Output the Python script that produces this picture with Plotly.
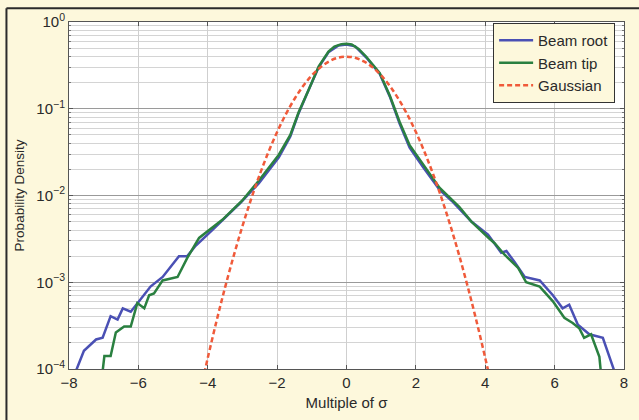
import plotly.graph_objects as go

# ---------------- data ----------------
root_x = [-7.8, -7.57, -7.22, -7.03, -6.8, -6.6, -6.45, -6.22, -5.98, -5.65, -5.3, -4.83, -4.59,
          -4.35, -3.87, -3.05, -2.53, -1.95, -1.62, -1.38, -1.09, -0.8, -0.52, -0.23, 0.0, 0.25,
          0.57, 0.96, 1.25, 1.53, 1.82, 2.2, 2.68, 3.03, 3.6, 4.08, 4.46, 4.61, 4.85, 5.14, 5.57,
          5.95, 6.23, 6.42, 6.67, 7.0, 7.39, 7.72]
root_y = [9.5e-5, 1.62e-4, 2.19e-4, 2.29e-4, 4.07e-4, 3.72e-4, 5.0e-4, 4.57e-4, 6.03e-4, 8.91e-4,
          1.15e-3, 2.0e-3, 2.0e-3, 2.63e-3, 3.98e-3, 8.3e-3, 1.38e-2, 2.75e-2, 4.79e-2, 8.9e-2,
          0.166, 0.302, 0.447, 0.537, 0.55, 0.525, 0.389, 0.251, 0.138, 0.0676, 0.0355, 0.0214,
          0.0117, 8.7e-3, 5.0e-3, 3.55e-3, 2.19e-3, 2.29e-3, 1.7e-3, 1.15e-3, 1.05e-3, 7.08e-4,
          5.0e-4, 5.5e-4, 3.24e-4, 2.51e-4, 2.29e-4, 9.5e-5]

tip_x = [-7.03, -6.98, -6.8, -6.65, -6.41, -6.22, -6.03, -5.83, -5.69, -5.55, -5.3, -5.11, -4.87,
         -4.59, -4.25, -3.58, -3.01, -2.53, -1.95, -1.62, -1.38, -1.09, -0.8, -0.52, -0.35, -0.15,
         0.0, 0.15, 0.35, 0.57, 0.96, 1.25, 1.53, 1.82, 2.2, 2.68, 3.25, 3.6, 4.1, 4.27, 4.55, 4.94,
         5.18, 5.57, 5.95, 6.28, 6.52, 6.71, 6.85, 7.05, 7.29, 7.33]
tip_y = [9.5e-5, 1.41e-4, 1.41e-4, 2.63e-4, 3.09e-4, 3.09e-4, 5.75e-4, 5.0e-4, 7.08e-4, 7.41e-4,
         1.05e-3, 1.1e-3, 1.15e-3, 1.91e-3, 3.24e-3, 5.25e-3, 8.7e-3, 1.48e-2, 2.95e-2, 5.0e-2,
         9.1e-2, 0.166, 0.309, 0.457, 0.52, 0.556, 0.562, 0.55, 0.49, 0.398, 0.257, 0.141, 0.0708,
         0.038, 0.0229, 0.0123, 7.41e-3, 5.0e-3, 3.24e-3, 2.82e-3, 2.09e-3, 1.48e-3, 1.0e-3,
         8.91e-4, 6.03e-4, 3.89e-4, 3.39e-4, 2.95e-4, 2.29e-4, 2.51e-4, 1.38e-4, 9.5e-5]

gauss_x = [-4.1, -4.0, -3.75, -3.5, -3.25, -3.0, -2.75, -2.5, -2.25, -2.0, -1.75, -1.5, -1.25,
           -1.0, -0.75, -0.5, -0.25, 0.0, 0.25, 0.5, 0.75, 1.0, 1.25, 1.5, 1.75, 2.0, 2.25, 2.5,
           2.75, 3.0, 3.25, 3.5, 3.75, 4.0, 4.1]
gauss_y = [8.92e-5, 1.34e-4, 3.53e-4, 8.73e-4, 2.03e-3, 4.43e-3, 9.09e-3, 1.75e-2, 3.17e-2,
           5.40e-2, 8.63e-2, 0.1295, 0.1826, 0.2420, 0.3011, 0.3521, 0.3867, 0.3989, 0.3867,
           0.3521, 0.3011, 0.2420, 0.1826, 0.1295, 8.63e-2, 5.40e-2, 3.17e-2, 1.75e-2, 9.09e-3,
           4.43e-3, 2.03e-3, 8.73e-4, 3.53e-4, 1.34e-4, 8.92e-5]

x_ticks = [-8, -6, -4, -2, 0, 2, 4, 6, 8]
y_tickvals = [1e-4, 1e-3, 1e-2, 1e-1, 1]
y_ticktext = ["10<sup>−4</sup>", "10<sup>−3</sup>", "10<sup>−2</sup>", "10<sup>−1</sup>", "10<sup>0</sup>"]

# ---------------- figure ----------------
CREAM = "#fdf8dc"
FONT = "Liberation Sans, Arial, sans-serif"

fig = go.Figure()
fig.add_trace(go.Scatter(x=root_x, y=root_y, mode="lines", name="Beam root",
                         line=dict(color="#4a50b4", width=2.5)))
fig.add_trace(go.Scatter(x=tip_x, y=tip_y, mode="lines", name="Beam tip",
                         line=dict(color="#2a8040", width=2.5)))
fig.add_trace(go.Scatter(x=gauss_x, y=gauss_y, mode="lines", name="Gaussian",
                         line=dict(color="#f05a3a", width=2.5, dash="5px,3px", shape="spline")))

axis_common = dict(showline=True, linecolor="#555555", linewidth=1, mirror="allticks",
                   ticks="inside", ticklen=4, tickcolor="#555555", zeroline=False,
                   tickfont=dict(family=FONT, size=15, color="#2a2a2a"))

fig.update_xaxes(range=[-8, 8], tickvals=x_ticks, showgrid=True, gridcolor="#cfcfcf",
                 gridwidth=1, title=dict(text="Multiple of σ", standoff=7,
                                         font=dict(family=FONT, size=15, color="#2a2a2a")),
                 **axis_common)
fig.update_yaxes(type="log", range=[-4, 0], tickvals=y_tickvals, ticktext=y_ticktext,
                 showgrid=True, gridcolor="#9a9a9a", gridwidth=1,
                 minor=dict(dtick="D1", showgrid=True, gridcolor="#d4d4d4", ticks="inside",
                            ticklen=2, tickcolor="#777777"),
                 title=dict(text="Probability Density", standoff=8,
                            font=dict(family=FONT, size=13.5, color="#2a2a2a")),
                 **axis_common)

# outer border (left and top visible in the reference)
X0, Y1 = -0.1127, 1.0395
fig.add_shape(type="line", xref="paper", yref="paper", x0=X0, x1=X0, y0=-0.2, y1=Y1,
              line=dict(color="#2b2b2b", width=2))
fig.add_shape(type="line", xref="paper", yref="paper", x0=X0, x1=1.1, y0=Y1, y1=Y1,
              line=dict(color="#2b2b2b", width=2))

fig.update_layout(
    width=639, height=420,
    margin=dict(l=69, r=11, t=18, b=48),
    paper_bgcolor=CREAM, plot_bgcolor="white",
    font=dict(family=FONT, color="#2a2a2a"),
    legend=dict(x=0.984, y=0.997, xanchor="right", yanchor="top",
                bgcolor=CREAM, bordercolor="#333333", borderwidth=1,
                font=dict(family=FONT, size=15, color="#2a2a2a"),
                itemwidth=34, tracegroupgap=0),
    showlegend=True,
)

fig.write_html("out.html")
